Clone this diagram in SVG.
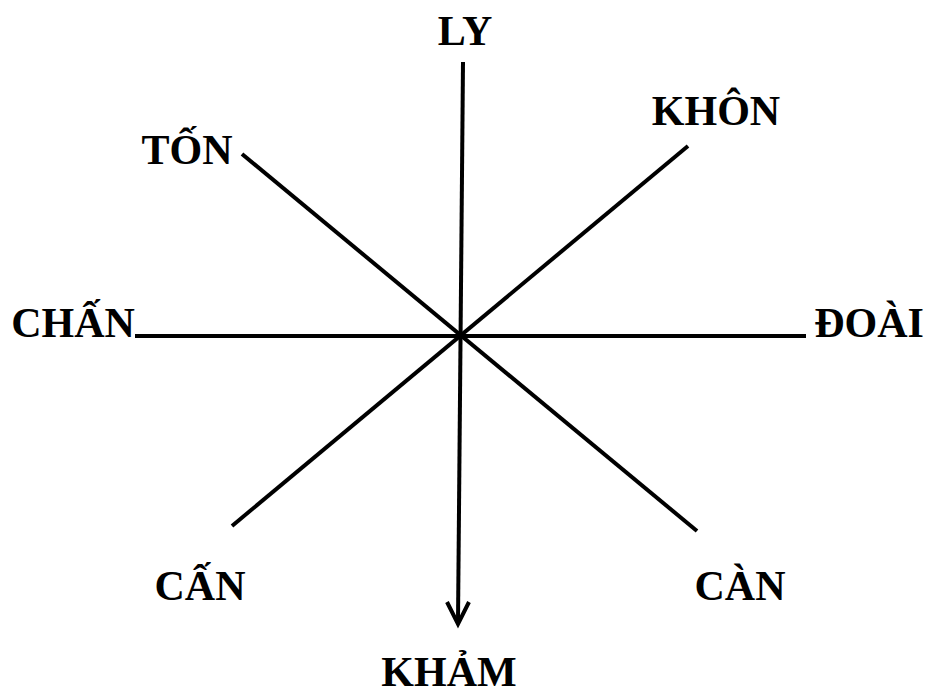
<svg xmlns="http://www.w3.org/2000/svg" width="925" height="694" viewBox="0 0 925 694">
<style>
.lbl{font-family:"Liberation Serif","Times New Roman",serif;font-weight:bold;font-size:42px;fill:#000}
.ln{stroke:#000;stroke-width:4;fill:none;stroke-linecap:butt}
</style>
<rect width="925" height="694" fill="#fff"/>
<g id="connectors">
<line class="ln" x1="135" y1="336" x2="806" y2="336"/>
<line class="ln" x1="242" y1="154" x2="697" y2="531"/>
<line class="ln" x1="688" y1="146" x2="232" y2="526"/>
<line class="ln" x1="463" y1="62" x2="458" y2="622"/>
<polyline class="ln" points="447,602 458,624 469,602"/>
</g>
<g id="ly"><text class="lbl" x="465" y="45" text-anchor="middle">LY</text></g>
<g id="khon"><text class="lbl" x="716" y="125" text-anchor="middle">KHÔN</text></g>
<g id="ton"><text class="lbl" x="187" y="164" text-anchor="middle">TỐN</text></g>
<g id="chan"><text class="lbl" x="73" y="337" text-anchor="middle">CHẤN</text></g>
<g id="doai"><text class="lbl" x="869" y="337" text-anchor="middle">ĐOÀI</text></g>
<g id="can1"><text class="lbl" x="200" y="600" text-anchor="middle">CẤN</text></g>
<g id="can2"><text class="lbl" x="740" y="600" text-anchor="middle">CÀN</text></g>
<g id="kham"><text class="lbl" x="449" y="686" text-anchor="middle">KHẢM</text></g>
</svg>
